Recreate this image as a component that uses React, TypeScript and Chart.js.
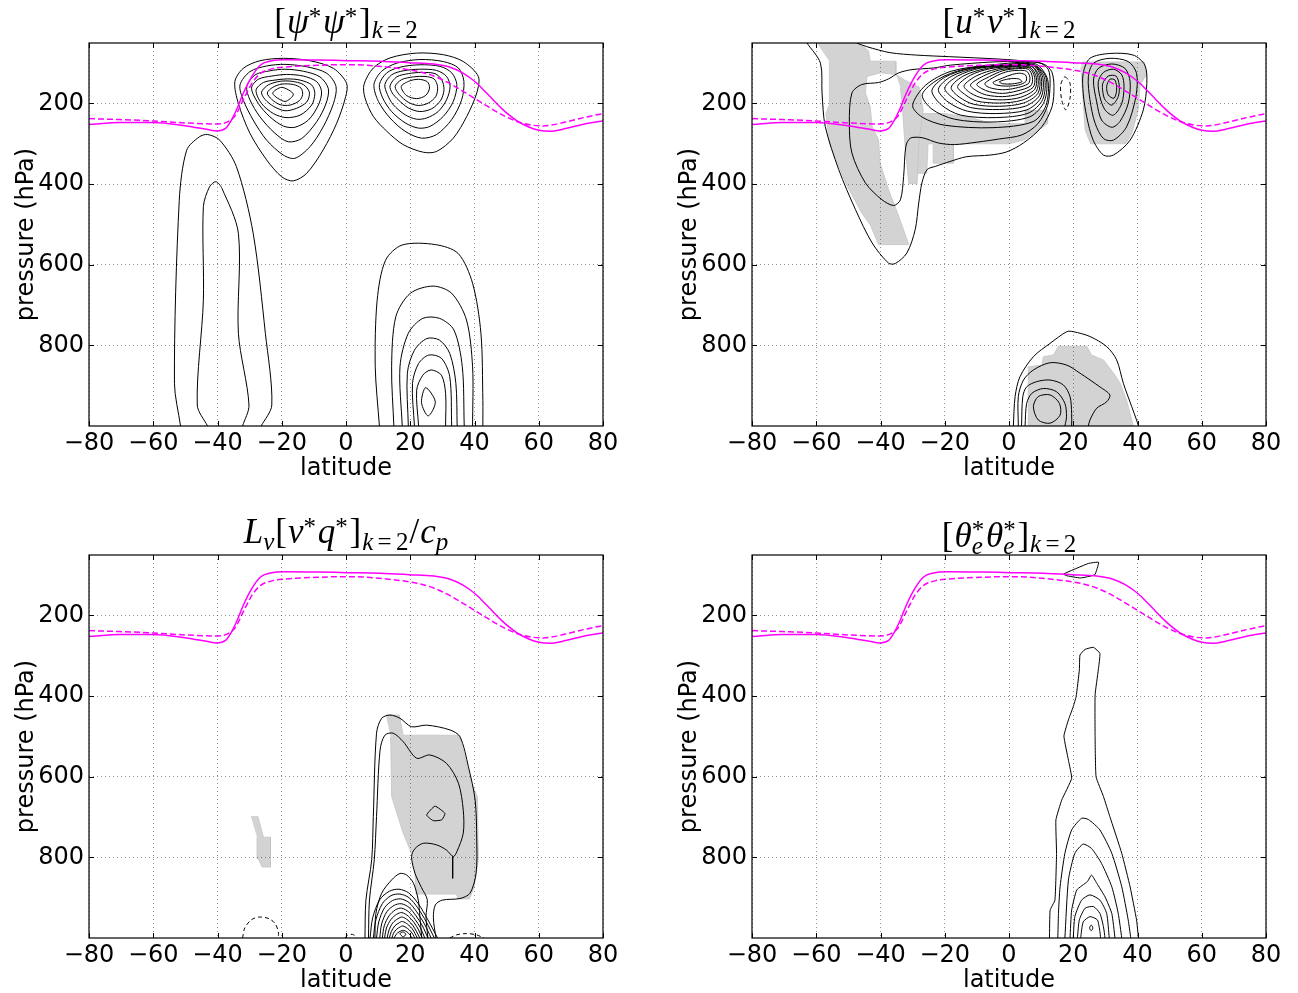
import React, { useEffect, useRef } from 'react';
import { Chart, registerables } from 'chart.js';

Chart.register(...registerables);

type Pt = [number, number];

// ---------------- axes ----------------
const latTicks = [-80, -60, -40, -20, 0, 20, 40, 60, 80];
const latTickLabels = ['\u221280', '\u221260', '\u221240', '\u221220', '0', '20', '40', '60', '80'];
const presTicks = [200, 400, 600, 800];
const presTickLabels = ['200', '400', '600', '800'];
const latRange = [-80, 80];
const presRange = [50, 1000];
const xTitle = 'latitude';
const yTitle = 'pressure (hPa)';

// ---------------- tropopause (same in all panels) ----------------
const tropSolid: Pt[] = [[-80,252.4],[-70.4,247.4],[-60.1,247.4],[-49.8,255.7],[-43.4,264],[-40.2,268],[-37.6,262.3],[-35.7,241.7],[-33.7,208.6],[-31.8,171.4],[-29.2,131.8],[-26.7,105.3],[-23.5,94.6],[-19,91.3],[-8.7,92.1],[0.3,93.8],[10.6,95.4],[19.6,98.7],[27.3,102],[32.4,110],[36.3,124],[40.2,146],[44,176],[48.5,212.7],[53,241.7],[56.9,258.2],[60.1,266.4],[63.3,268.9],[68.4,262.3],[74.9,249.9],[80,243.3]];
const tropDashed: Pt[] = [[-80,237.5],[-70.4,240],[-60.1,243.3],[-49.8,248.3],[-40.2,250.7],[-36.9,245.8],[-34.4,229.3],[-31.8,188],[-29.2,149.1],[-26.7,126],[-22.8,113.6],[-19,109.5],[-8.7,105.3],[-1,103.7],[6.7,105.3],[14.5,111.1],[22.2,120.2],[27.3,131.8],[32.4,150.8],[37.6,175.6],[42.7,200.4],[47.9,225.1],[53,244.1],[58.1,254],[61.4,255.7],[68.4,245.8],[74.9,233.4],[80,225.1]];

// ---------------- panel 1: [psi* psi*] ----------------
const psiA1: Pt[] = [[-34.6,146],[-32,113],[-26.8,94],[-19.5,88],[-11.2,94],[-3.9,113],[0.2,150],[-0.1,183],[-2.9,249],[-7.1,315],[-12.2,373],[-16.4,392],[-20,382],[-24.7,340],[-29.9,274],[-33.5,200]];
const psiA2: Pt[] = [[-33,154],[-29.9,121],[-24.7,107],[-19,103],[-12.2,109],[-6,125],[-3.1,158],[-3.9,200],[-7.1,258],[-11.2,307],[-15.9,336],[-19.5,328],[-24.7,291],[-28.9,241],[-32,191]];
const psiA3: Pt[] = [[-30.9,158],[-28.3,129],[-23.7,119],[-19,115],[-13.3,120],[-8.1,134],[-5.5,163],[-6.2,200],[-9.1,245],[-13.8,287],[-18,295],[-22.1,274],[-26.8,233],[-29.9,191]];
const psiA4: Pt[] = [[-29.4,162],[-27.3,140],[-23.1,132],[-18.5,128],[-13.3,132],[-9.1,146],[-7.6,171],[-8.6,204],[-11.7,241],[-15.9,259],[-19.5,256],[-23.7,233],[-27.3,200]];
const psiA5: Pt[] = [[-28,167],[-25.7,148],[-22.1,142],[-18.3,139],[-14.3,142],[-10.7,154],[-9.7,175],[-10.7,204],[-14.3,229],[-18.7,235],[-22.6,225],[-26.3,200]];
const psiA6: Pt[] = [[-26.3,172],[-24.2,154],[-20.5,145],[-16.9,145],[-13.3,153],[-11.4,172],[-12.2,196],[-15.4,212],[-19,218],[-22.6,207],[-25.2,190]];
const psiA7: Pt[] = [[-24.5,174],[-22.8,160],[-20,152],[-16.4,153],[-14,162],[-13.5,178],[-14.5,193],[-17.4,204],[-20.5,203],[-23.1,190]];
const psiA8: Pt[] = [[-22.8,175],[-20,160],[-16.4,177],[-19,195]];
const psiB1: Pt[] = [[5.6,153],[8.5,112],[13.7,87],[22,75],[30.3,79],[36.5,96],[41.2,133],[40.7,174],[37.6,232],[33.4,286],[28.2,319],[24.1,321],[17.8,302],[12.7,269],[8.5,232],[5.9,186]];
const psiB2: Pt[] = [[8.7,153],[11.1,120],[15.8,100],[23,91],[30.3,96],[35,112],[36.7,145],[36,191],[32.9,240],[28.2,277],[23.5,286],[18.4,269],[13.7,236],[10.1,195]];
const psiB3: Pt[] = [[10.4,153],[12.7,124],[16.8,110],[23,104],[29.3,108],[32.9,124],[34.5,153],[33.4,195],[30.3,232],[26.1,257],[22.5,261],[18.4,248],[14.2,220],[11.4,186]];
const psiB4: Pt[] = [[12.1,153],[14.2,129],[17.8,119],[23,115],[28.2,118],[31.3,133],[32.4,158],[31.3,191],[28.7,220],[25.1,236],[22,239],[18.4,228],[14.7,203],[12.9,178]];
const psiB5: Pt[] = [[13.7,156],[15.8,134],[19.4,126],[23.6,123],[27.7,126],[29.8,141],[30.5,166],[29.5,192],[26.7,213],[23,220],[19.4,211],[16.3,191],[14.4,174]];
const psiB6: Pt[] = [[15.3,158],[17.3,141],[21,134],[24.6,133],[27.4,139],[28.5,158],[28,182],[25.6,199],[22.5,205],[19.4,197],[16.6,178]];
const psiB7: Pt[] = [[17.2,158],[19.5,145],[22.5,140],[25.3,146],[26,162],[24.8,180],[22,188],[18.8,180]];
const psiC1: Pt[] = [[10.4,1000],[9.1,853],[9.7,688],[12.3,589],[17.5,551],[27.8,550],[34.9,572],[39.4,646],[42,770],[42.6,936],[42.6,1000]];
const psiC2: Pt[] = [[14.9,1000],[14.2,853],[15.5,729],[20,671],[27.1,653],[32.9,671],[37.5,737],[39.4,853],[39.4,1000]];
const psiC3: Pt[] = [[17.5,1000],[16.8,853],[19.4,770],[23.9,733],[29.1,733],[33.6,762],[36.2,853],[36.8,1000]];
const psiC4: Pt[] = [[19.4,1000],[19.1,869],[21.3,812],[25.2,783],[29.1,787],[32.3,820],[34.2,894],[34.6,1000]];
const psiC5: Pt[] = [[21.3,1000],[20.7,894],[22.6,845],[25.8,824],[29.7,832],[32.3,878],[32.9,1000]];
const psiC6: Pt[] = [[22.6,1000],[22,911],[23.9,874],[26.5,861],[29.7,874],[31,919],[31,1000]];
const psiC7: Pt[] = [[24.8,905],[27.8,940],[25.6,975],[23.5,942]];
const psiD1: Pt[] = [[-51.5,1000],[-53.4,894],[-51.9,440],[-49.6,316],[-45.7,283],[-43.1,277],[-39.3,291],[-34.1,357],[-28.9,522],[-25.1,770],[-23.1,948],[-26.4,1000]];
const psiD2: Pt[] = [[-43.1,1000],[-46.3,948],[-44.4,688],[-44.4,456],[-42.5,407],[-40.5,394],[-38.6,411],[-33.5,522],[-33.5,770],[-30.2,948],[-32.2,1000]];

// ---------------- panel 2: [u* v*] ----------------
const uvO1: Pt[] = [[-62.9,50],[-58.7,100],[-58.2,174],[-57.2,257],[-53,364],[-47.8,463],[-42.6,546],[-37.5,596],[-35.4,597],[-31.8,571],[-29.2,513],[-28.1,447],[-27.1,397],[-25.5,364],[-22.9,356],[-18.4,344],[-13.2,332],[-5.9,328],[-0.7,320],[4.5,298],[10.2,258],[13.4,208],[14,158],[13.3,121],[11,103],[6.5,96],[-2.8,90],[-18.4,84],[-28.7,80],[-37,74],[-44.3,59],[-47.4,50]];
const uvO2: Pt[] = [[-48.9,174],[-49.7,248],[-48.9,323],[-44.7,397],[-39.5,439],[-35.9,453],[-33.8,439],[-32.8,381],[-32.1,306],[-30.7,286],[-27,285],[-22,298],[-17,302],[-10,296],[-3,288],[4,278],[9,250],[12,205],[12.8,150],[12.2,115],[9.5,99],[4,96],[-5,97],[-18.3,105],[-23.5,112],[-30.2,116],[-34.3,124],[-37.5,139],[-40.6,148],[-45.8,153]];
const uvJ1: Pt[] = [[-30,205],[-26,155],[-18,120],[-5,104],[8,101],[12,140],[11.5,205],[7.5,245],[-5,260],[-20,254],[-27,234]];
const uvJ2: Pt[] = [[-27,178],[-22,140],[-14,115],[-3,105],[7.5,103],[11.5,135],[11,195],[6.5,233],[-5,246],[-17,239],[-24,214]];
const uvJ3: Pt[] = [[-24,168],[-20,135],[-12,113],[-2,105],[7.5,104],[11,135],[10.5,190],[6,224],[-4,235],[-15,229],[-21,204]];
const uvJ4: Pt[] = [[-22,165],[-18,133],[-10,112],[-1,105.5],[7.5,105],[10.5,135],[10,185],[5.5,216],[-4,225],[-13,219],[-19,196]];
const uvJ5: Pt[] = [[-20,162],[-16,132],[-9,112.5],[0,106],[7.5,106],[10,135],[9.5,180],[5,207],[-3,215],[-12,210],[-17,189]];
const uvJ6: Pt[] = [[-18,160],[-14,131],[-7,113],[0,107],[7,107],[9.5,135],[9,175],[4.5,199],[-3,207],[-11,202],[-15.5,184]];
const uvJ7: Pt[] = [[-16,158],[-12,130],[-6,114],[1,108],[7,108],[9,135],[8.5,170],[4,192],[-3,199],[-10,194],[-13.5,179]];
const uvJ8: Pt[] = [[-14,156],[-10,131],[-4,115],[1,109.5],[6.5,110],[8.5,135],[8,165],[3.5,185],[-2,191],[-8,187],[-12,174]];
const uvJ9: Pt[] = [[-12,154],[-8,132],[-3,117],[2,112],[6.3,112],[8,135],[7.5,160],[3,177],[-2,183],[-7,179],[-10,169]];
const uvJ10: Pt[] = [[-10,152],[-6,133],[-2,119],[2,114],[6,115],[7.3,135],[6.8,156],[2.5,169],[-2,175],[-6,171],[-8.5,163]];
const uvJ11: Pt[] = [[-7.5,150],[-4.5,134],[-1,122],[2.5,118],[5.5,120],[6.5,135],[6,151],[2,162],[-2,166],[-5,163],[-7,157]];
const uvJ12: Pt[] = [[-5,148],[-2,137],[1,128],[3.5,125],[5.2,130],[5.3,145],[3,154],[-1,157],[-4,154]];
const uvJ13: Pt[] = [[-3,146],[0,139],[3,139],[4,146],[1,151.5],[-2,151]];
const uvR1: Pt[] = [[23.1,125],[25.2,88],[31.4,76],[38.7,80],[42.3,105],[42.9,150],[41.8,216],[37.7,291],[32.5,328],[29.4,328],[26.2,291],[24.2,233],[23.1,175]];
const uvR2: Pt[] = [[24.7,134],[26.3,100],[31.4,88],[37.1,96],[39.7,125],[39.5,183],[36.6,258],[32.5,291],[29.4,287],[26.8,249],[25.2,191]];
const uvR3: Pt[] = [[26.3,142],[27.8,113],[32,102],[36.1,113],[37.7,146],[37.1,200],[34.5,245],[32,259],[28.8,241],[27.3,196]];
const uvR4: Pt[] = [[27.8,146],[29.4,123],[32.5,115],[35.1,129],[35.8,158],[35.1,200],[32.5,229],[29.9,216],[28.3,183]];
const uvR5: Pt[] = [[29.2,150],[30.9,132],[33.3,132],[34.3,154],[34,183],[32,204],[29.9,191],[29.2,171]];
const uvR6: Pt[] = [[30.4,158],[31.4,140],[33,142],[33.5,167],[32.7,187],[30.9,179]];
const uvNeg: Pt[] = [[17.4,134],[19,150],[19,187],[17.7,216],[16.4,191],[16.1,154]];
const uvL1: Pt[] = [[1.35,1000],[1.9,927],[3.4,878],[7.6,828],[12.8,795],[18,766],[20,766],[25.2,778],[30.4,803],[33.5,836],[35.6,894],[38.2,952],[39.7,985],[40.3,1000]];
const uvL2: Pt[] = [[2.9,1000],[2.9,927],[4.5,886],[7.6,861],[12.8,843],[18,849],[22.1,869],[28.3,903],[31.4,923],[30.4,940],[27.3,956],[25.2,985],[24.7,1000]];
const uvL3: Pt[] = [[3.9,1000],[4.3,927],[5.5,903],[8.6,890],[12.8,886],[16.9,898],[19,927],[19.5,969],[19.5,1000]];
const uvL4: Pt[] = [[5,1000],[5.5,944],[7.1,919],[10.7,907],[14.8,915],[17.4,944],[17.9,977],[17.4,1000]];
const uvL5: Pt[] = [[7.6,952],[9.1,927],[12.8,923],[15.7,944],[15.9,973],[12.8,993],[9.1,985]];
const uvG1: Pt[] = [[-59.8,50],[-46.8,50],[-43.7,70],[-43.2,95],[-35.4,95],[-35.2,128],[-40,124],[-44.2,133],[-44.7,174],[-43.2,207],[-42.6,257],[-40.6,290],[-40.1,348],[-37.5,414],[-34.3,480],[-31.2,550],[-40.6,550],[-43.2,501],[-45.8,472],[-50.9,397],[-55.9,298],[-57,225],[-55.9,203],[-55.9,96]];
const uvG2: Pt[] = [[-35.2,128],[-32.5,142],[-28,159],[-26.7,217],[-28,291],[-28.6,399],[-31.2,399],[-32.5,291],[-33.1,217],[-33.8,160]];
const uvG3: Pt[] = [[-28,225],[-20,225],[-12,235],[-5,250],[5,250],[5,217],[12,217],[12,250],[5,290],[0,300],[-17.3,300],[-17.3,348],[-23.6,348],[-23.6,300],[-25.2,300],[-25.6,373],[-28.7,373],[-28.5,300]];
const uvG4: Pt[] = [[22.8,97],[42.1,97],[42.7,130],[40.8,155],[40.2,217],[38.2,275],[36.3,300],[25.4,300],[23.7,266],[22.4,110]];
const uvG5: Pt[] = [[6,1000],[6,853],[10.2,849],[10.7,828],[13.8,824],[15.4,802],[24.2,802],[25.7,824],[29.4,836],[31.4,857],[33,874],[34.6,894],[36.6,936],[38.7,1000]];

// ---------------- panel 3: Lv [v* q*] / cp ----------------
const vqQ1: Pt[] = [[5.9,1000],[6.2,906],[8,806],[8.5,699],[9.5,492],[11.1,455],[13.7,447],[16.8,455],[20.4,476],[25.1,472],[32.4,484],[35.5,501],[38.1,575],[40.2,658],[40.7,757],[40.5,839],[38.6,889],[35.5,902],[30,906],[27.8,918],[27.2,950],[28,1000]];
const vqQ2: Pt[] = [[7,1000],[7.3,906],[8.8,806],[9.5,699],[10.6,534],[12.1,497],[14.7,492],[17.8,513],[22,554],[26.1,546],[31.3,567],[35,616],[36.5,683],[36.5,740],[34.5,786],[33.4,798],[31.3,782],[28.2,769],[24.1,765],[21.5,778],[20.4,798],[21.5,840],[23.5,875],[25.3,905],[24.9,947],[25.5,1000]];
const vqQ3: Pt[] = [[9,1000],[9.3,939],[11.1,889],[14.2,856],[16.8,840],[18.9,844],[21,864],[22.5,906],[23,947],[23.6,1000]];
const vqD1: Pt[] = [[7.5,1000],[8.3,950],[10.5,905],[13.5,884],[16.5,879],[19.5,888],[22.5,915],[25.5,955],[28.5,1000]];
const vqD2: Pt[] = [[8.5,1000],[9.3,955],[11.3,915],[14,895],[16.8,891],[19.6,900],[22.3,925],[25,960],[27.5,1000]];
const vqD3: Pt[] = [[9.5,1000],[10.2,960],[12,925],[14.5,907],[17,903],[19.6,912],[22,935],[24.4,965],[26.5,1000]];
const vqD4: Pt[] = [[10.5,1000],[11.1,965],[12.7,935],[15,919],[17.2,915],[19.6,924],[21.8,945],[23.8,970],[25.5,1000]];
const vqD5: Pt[] = [[11.3,1000],[11.9,970],[13.4,945],[15.4,930],[17.3,926],[19.5,935],[21.5,954],[23.2,975],[24.5,1000]];
const vqD6: Pt[] = [[12,1000],[12.6,975],[14,954],[15.8,941],[17.4,937],[19.4,946],[21.2,962],[22.6,980],[23.7,1000]];
const vqD7: Pt[] = [[12.8,1000],[13.4,980],[14.6,962],[16.2,952],[17.5,948],[19.3,956],[20.9,970],[22,985],[23,1000]];
const vqD8: Pt[] = [[13.5,1000],[14.1,984],[15.2,970],[16.6,962],[17.6,959],[19.2,966],[20.6,977],[21.5,989],[22.2,1000]];
const vqD9: Pt[] = [[14.3,1000],[14.8,988],[15.8,978],[17,972],[17.7,970],[19.1,976],[20.2,984],[20.9,992],[21.4,1000]];
const vqD10: Pt[] = [[15,1000],[15.6,991],[16.5,985],[17.8,981],[19,985],[20,993],[20.6,1000]];
const vqCore: Pt[] = [[16.8,989],[17.8,985],[18.6,991],[17.8,997]];
const vqSmall: Pt[] = [[25.1,695],[27.7,673],[30.8,691],[29.8,707],[27.2,709]];
const vqTick: Pt[] = [[33.2,798],[33.2,852]];
const vqNeg1: Pt[] = [[-32.2,1000],[-31.5,975],[-29.5,955],[-27,948],[-24,952],[-22,965],[-21,988],[-21.2,1000]];
const vqNeg2: Pt[] = [[-0.3,1000],[0.5,993],[2,991],[3,996],[3.2,1000]];
const vqNeg3: Pt[] = [[32.3,1000],[34.5,992],[37.5,989],[40.5,992],[43,1000]];
const vqG1: Pt[] = [[12.4,447],[16.6,447],[17.8,497],[35.3,497],[37,550],[39.1,616],[40.9,649],[41.2,807],[39.8,877],[38.4,903],[35,903],[34.2,891],[21.8,891],[21.5,840],[20.4,790],[17.8,740],[14.2,649],[13.9,501]];
const vqG2: Pt[] = [[-29.6,699],[-27.4,699],[-25.7,750],[-23.5,750],[-23.5,824],[-26.1,824],[-27.4,803],[-27.7,750]];

// ---------------- panel 4: [theta_e* theta_e*] ----------------
const thE1: Pt[] = [[12.6,1000],[12.8,931],[14.3,906],[14.8,790],[14.6,707],[16.4,658],[19.5,604],[18.5,559],[17.1,499],[18.5,459],[20,426],[20.9,401],[21.9,335],[22.1,298],[23.7,284],[26.3,279],[28.3,294],[27.8,335],[26.8,397],[26.8,501],[27.1,600],[29.4,649],[31.4,699],[35.1,790],[37.7,873],[39.7,955],[40.3,1000]];
const thE2: Pt[] = [[15.2,1000],[15.4,939],[15.9,873],[17.4,790],[19.5,732],[22.6,703],[24.7,706],[28.3,732],[32,790],[35.1,873],[37.1,955],[37.9,1000]];
const thE3: Pt[] = [[17.4,1000],[18.5,856],[20.5,790],[23.1,767],[25.7,778],[28.8,815],[32,873],[34,939],[35.1,1000]];
const thE4: Pt[] = [[19,1000],[19.5,931],[21.1,881],[24.4,860],[25.7,844],[27.3,864],[29.9,898],[32,939],[33,1000]];
const thE5: Pt[] = [[20,1000],[20.5,947],[22.6,906],[25.2,893],[28.3,906],[30.4,939],[31.2,1000]];
const thE6: Pt[] = [[21.3,1000],[21.9,955],[23.7,926],[26.3,922],[28.3,939],[29.4,972],[29.9,1000]];
const thE7: Pt[] = [[22.3,1000],[23.1,960],[25.2,947],[27.5,955],[28.3,984],[28.5,1000]];
const thE8: Pt[] = [[25.6,968],[26.1,975],[25.6,982],[25.1,975]];
const thTop: Pt[] = [[17,97],[24.7,71],[27.9,68],[26.7,99],[22.2,107],[17.7,101]];

// ---------------- titles (math text) ----------------
type Seg = { t: string; it?: boolean; s?: number; dy?: number; stack?: boolean; pre?: number; post?: number };
const SUP = -0.22, SUB = 0.13, SS = 0.7;
const subK2: Seg[] = [
  { t: 'k', it: true, s: SS, dy: SUB, pre: 0.03 },
  { t: '=', s: SS, dy: SUB, pre: 0.12, post: 0.12 },
  { t: '2', s: SS, dy: SUB },
];
const titlePsi: Seg[] = [
  { t: '[', post: 0.03 }, { t: '\u03c8', it: true }, { t: '*', s: SS, dy: SUP, post: 0.05 },
  { t: '\u03c8', it: true }, { t: '*', s: SS, dy: SUP, post: 0.05 }, { t: ']' }, ...subK2,
];
const titleUV: Seg[] = [
  { t: '[', post: 0.03 }, { t: 'u', it: true }, { t: '*', s: SS, dy: SUP, post: 0.05 },
  { t: 'v', it: true }, { t: '*', s: SS, dy: SUP, post: 0.05 }, { t: ']' }, ...subK2,
];
const titleVQ: Seg[] = [
  { t: 'L', it: true }, { t: 'v', it: true, s: SS, dy: 0.2, post: 0.03 }, { t: '[', post: 0.03 }, { t: 'v', it: true },
  { t: '*', s: SS, dy: SUP, post: 0.05 }, { t: 'q', it: true }, { t: '*', s: SS, dy: SUP, post: 0.05 },
  { t: ']' }, ...subK2.map((s) => ({ ...s, dy: 0.2 })), { t: '/', pre: 0.03, post: 0.03 }, { t: 'c', it: true },
  { t: 'p', it: true, s: SS, dy: 0.2 },
];
const titleTH: Seg[] = [
  { t: '[', post: 0.03 }, { t: '\u03b8', it: true }, { t: '*', s: SS, dy: -0.27, stack: true }, { t: 'e', it: true, s: SS, dy: 0.2, post: 0.05 },
  { t: '\u03b8', it: true }, { t: '*', s: SS, dy: -0.27, stack: true }, { t: 'e', it: true, s: SS, dy: 0.2, post: 0.05 },
  { t: ']' }, ...subK2,
];

// ---------------- styling / layout ----------------
type Kind = 'line' | 'dash' | 'fill' | 'trop' | 'tropDash';
interface Curve { pts: Pt[]; kind: Kind; closed?: boolean; smooth?: number }
const L = (pts: Pt[], closed = false, smooth = 0.3): Curve => ({ pts, kind: 'line', closed, smooth });
const D = (pts: Pt[], closed = false): Curve => ({ pts, kind: 'dash', closed, smooth: 0.3 });
const F = (pts: Pt[]): Curve => ({ pts, kind: 'fill' });
const tropCurves: Curve[] = [{ pts: tropSolid, kind: 'trop' }, { pts: tropDashed, kind: 'tropDash' }];

interface Panel {
  left: number; top: number; w: number; h: number;
  area: { l: number; t: number; r: number; b: number };
  title: Seg[]; titleGap: number; curves: Curve[];
}

const panels: Panel[] = [
  {
    left: 0, top: 0, w: 649, h: 496, area: { l: 89, t: 43, r: 603, b: 426 }, title: titlePsi, titleGap: 10,
    curves: [
      ...[psiA1, psiA2, psiA3, psiA4, psiA5, psiA6, psiA7, psiA8].map((p) => L(p, true)),
      ...[psiB1, psiB2, psiB3, psiB4, psiB5, psiB6, psiB7].map((p) => L(p, true)),
      ...[psiC1, psiC2, psiC3, psiC4, psiC5, psiC6].map((p) => L(p)), L(psiC7, true),
      L(psiD1), L(psiD2), ...tropCurves,
    ],
  },
  {
    left: 649, top: 0, w: 649, h: 496, area: { l: 103, t: 43, r: 617, b: 426 }, title: titleUV, titleGap: 10,
    curves: [
      F(uvG1), F(uvG2), F(uvG3), F(uvG4), F(uvG5),
      L(uvO1), L(uvO2, true),
      ...[uvJ1, uvJ2, uvJ3, uvJ4, uvJ5, uvJ6, uvJ7, uvJ8, uvJ9, uvJ10, uvJ11, uvJ12, uvJ13].map((p) => L(p, true)),
      ...[uvR1, uvR2, uvR3, uvR4, uvR5, uvR6].map((p) => L(p, true)),
      D(uvNeg, true),
      L(uvL1), L(uvL2), L(uvL3), L(uvL4), L(uvL5, true), ...tropCurves,
    ],
  },
  {
    left: 0, top: 496, w: 649, h: 497, area: { l: 89, t: 59, r: 603, b: 442 }, title: titleVQ, titleGap: 12,
    curves: [
      F(vqG1), F(vqG2),
      L(vqQ1), L(vqQ2), L(vqQ3),
      ...[vqD1, vqD2, vqD3, vqD4, vqD5, vqD6, vqD7, vqD8, vqD9, vqD10].map((p) => L(p)),
      L(vqCore, true), L(vqSmall, true, 0.15), L(vqTick, false, 0),
      D(vqNeg1), D(vqNeg2), D(vqNeg3), ...tropCurves,
    ],
  },
  {
    left: 649, top: 496, w: 649, h: 497, area: { l: 103, t: 59, r: 617, b: 442 }, title: titleTH, titleGap: 8,
    curves: [
      L(thE1, false, 0.12), L(thE2, false, 0.2), L(thE3, false, 0.2), L(thE4, false, 0.15),
      L(thE5, false, 0.2), L(thE6, false, 0.2), L(thE7, false, 0.2), L(thE8, true), L(thTop, true, 0.1),
      ...tropCurves,
    ],
  },
];

const SANS = '"DejaVu Sans", sans-serif';
const SERIF = '"Liberation Serif", "DejaVu Serif", serif';
const TICK_SIZE = 24;
const LABEL_SIZE = 24;
const TITLE_SIZE = 35;

function toDataset(c: Curve): any {
  const data = c.pts.map(([x, y]) => ({ x, y }));
  if (c.kind === 'fill') {
    return { data, fill: 'shape', backgroundColor: '#d3d3d3', borderColor: '#c4c4c4', borderWidth: 0.8, pointRadius: 0, tension: 0, order: 3 };
  }
  if (c.kind === 'trop' || c.kind === 'tropDash') {
    return {
      data, fill: false, pointRadius: 0, borderColor: '#ff00ff', borderWidth: 1.5,
      cubicInterpolationMode: 'monotone', borderDash: c.kind === 'tropDash' ? [6, 3] : [], order: 1,
    };
  }
  return {
    data, fill: false, pointRadius: 0, borderColor: '#000000', borderWidth: 1, tension: c.smooth ?? 0.3,
    borderDash: c.kind === 'dash' ? [4, 3] : [], order: 2, closedLoop: !!c.closed,
  };
}

function drawMath(ctx: CanvasRenderingContext2D, segs: Seg[], cx: number, base: number, size: number) {
  const placed: { s: Seg; x: number; font: string }[] = [];
  let x = 0;
  let pend: number | null = null;
  let pendW = 0;
  for (const s of segs) {
    const font = `${s.it ? 'italic ' : ''}${Math.round(size * (s.s ?? 1))}px ${SERIF}`;
    ctx.font = font;
    const w = ctx.measureText(s.t).width;
    const start = (pend ?? x) + (s.pre ?? 0) * size;
    placed.push({ s, x: start, font });
    if (s.stack) { pend = start; pendW = w; }
    else if (pend !== null) { x = pend + Math.max(w, pendW) + (s.post ?? 0) * size; pend = null; }
    else x = start + w + (s.post ?? 0) * size;
  }
  const x0 = cx - x / 2;
  ctx.fillStyle = '#000';
  ctx.textBaseline = 'alphabetic';
  ctx.textAlign = 'left';
  for (const p of placed) {
    ctx.font = p.font;
    ctx.fillText(p.s.t, x0 + p.x, base + (p.s.dy ?? 0) * size);
  }
}

function makePlugin(panel: Panel) {
  return {
    id: 'decor',
    afterDatasetsUpdate(chart: any) {
      chart.data.datasets.forEach((ds: any, i: number) => {
        if (!ds.closedLoop) return;
        const el = chart.getDatasetMeta(i).dataset;
        if (el) {
          el._loop = true; el._fullLoop = true;
          el._pointsUpdated = false; el._segments = undefined; el._path = undefined;
        }
      });
    },
    afterDraw(chart: any) {
      const { ctx, chartArea: a, scales } = chart;
      ctx.save();
      ctx.strokeStyle = '#000';
      ctx.lineWidth = 1.2;
      ctx.strokeRect(a.left, a.top, a.right - a.left, a.bottom - a.top);
      ctx.lineWidth = 1;
      const tl = 5;
      ctx.beginPath();
      for (const v of latTicks) {
        const px = Math.round(scales.x.getPixelForValue(v)) + 0.5;
        ctx.moveTo(px, a.bottom); ctx.lineTo(px, a.bottom - tl);
        ctx.moveTo(px, a.top); ctx.lineTo(px, a.top + tl);
      }
      for (const v of presTicks) {
        const py = Math.round(scales.y.getPixelForValue(v)) + 0.5;
        ctx.moveTo(a.left, py); ctx.lineTo(a.left + tl, py);
        ctx.moveTo(a.right, py); ctx.lineTo(a.right - tl, py);
      }
      ctx.stroke();
      // axis titles
      ctx.fillStyle = '#000';
      ctx.font = `${LABEL_SIZE}px ${SANS}`;
      ctx.textAlign = 'center';
      ctx.textBaseline = 'alphabetic';
      ctx.fillText(xTitle, (a.left + a.right) / 2, a.bottom + 49);
      ctx.save();
      ctx.translate(a.left - 62, (a.top + a.bottom) / 2);
      ctx.rotate(-Math.PI / 2);
      ctx.textBaseline = 'middle';
      ctx.fillText(yTitle, 0, 0);
      ctx.restore();
      drawMath(ctx, panel.title, (a.left + a.right) / 2, a.top - panel.titleGap, TITLE_SIZE);
      ctx.restore();
    },
  };
}

function PanelChart({ panel }: { panel: Panel }) {
  const ref = useRef<HTMLCanvasElement | null>(null);
  useEffect(() => {
    const canvas = ref.current;
    if (!canvas) return;
    const { area, w, h } = panel;
    const yW = area.l;
    const xH = h - area.b;
    const chart = new Chart(canvas, {
      type: 'line',
      data: { datasets: panel.curves.map(toDataset) },
      options: {
        animation: false,
        responsive: false,
        devicePixelRatio: 1,
        events: [],
        layout: { padding: { left: 0, top: area.t, right: w - area.r, bottom: 0 } },
        plugins: { legend: { display: false }, tooltip: { enabled: false }, title: { display: false } },
        scales: {
          x: {
            type: 'linear', min: latRange[0], max: latRange[1],
            afterBuildTicks: (s: any) => { s.ticks = latTicks.map((v) => ({ value: v })); },
            afterFit: (s: any) => { s.height = xH; },
            ticks: {
              autoSkip: false, maxRotation: 0, padding: 3, color: '#000',
              font: { family: SANS, size: TICK_SIZE },
              callback: (_v: any, i: number) => latTickLabels[i],
            },
            grid: { z: 1, color: 'rgba(0,0,0,0.42)', lineWidth: 1, drawTicks: false },
            border: { display: false, dash: [1, 3] },
          },
          y: {
            type: 'linear', reverse: true, min: presRange[0], max: presRange[1],
            afterBuildTicks: (s: any) => { s.ticks = presTicks.map((v) => ({ value: v })); },
            afterFit: (s: any) => { s.width = yW; },
            ticks: {
              autoSkip: false, padding: 5, color: '#000',
              font: { family: SANS, size: TICK_SIZE },
              callback: (_v: any, i: number) => presTickLabels[i],
            },
            grid: { z: 1, color: 'rgba(0,0,0,0.42)', lineWidth: 1, drawTicks: false },
            border: { display: false, dash: [1, 3] },
          },
        },
      } as any,
      plugins: [makePlugin(panel)],
    });
    return () => chart.destroy();
  }, [panel]);
  return (
    <canvas
      ref={ref}
      width={panel.w}
      height={panel.h}
      style={{ position: 'absolute', left: panel.left, top: panel.top, width: panel.w, height: panel.h, display: 'block' }}
    />
  );
}

export default function App() {
  return (
    <div style={{ position: 'absolute', left: 0, top: 0, width: 1298, height: 993, background: '#fff', overflow: 'hidden' }}>
      {panels.map((p, i) => (
        <PanelChart key={i} panel={p} />
      ))}
    </div>
  );
}
